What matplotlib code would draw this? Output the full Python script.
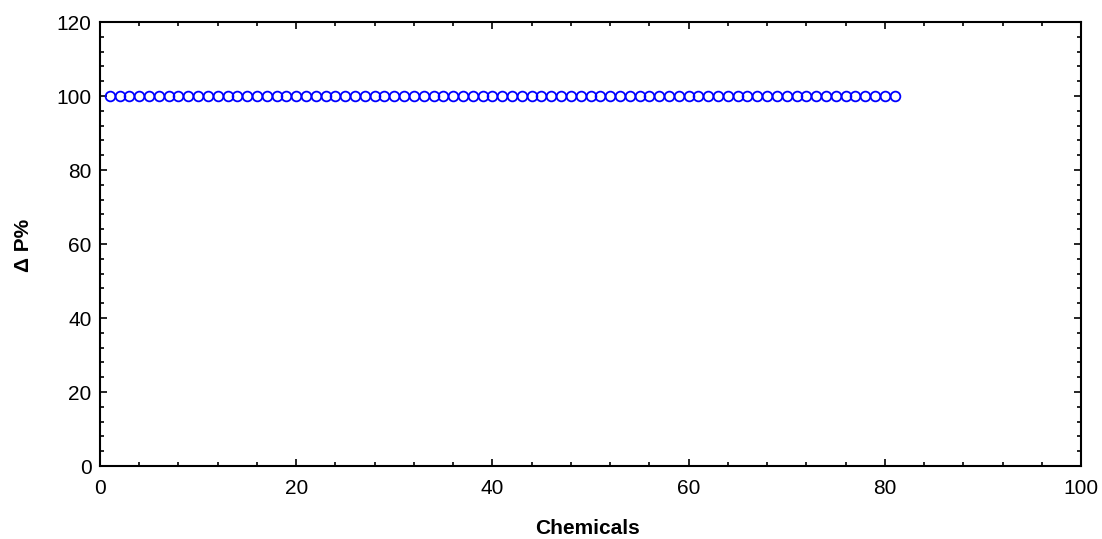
import numpy as np
import matplotlib
matplotlib.use("Agg")
import matplotlib.pyplot as plt
from matplotlib.ticker import MultipleLocator

plt.rcParams['font.family'] = ['Liberation Sans', 'DejaVu Sans']

chemicals = list(range(1, 82))
delta_p = [100] * 81

fig = plt.figure(figsize=(11.02, 5.39), dpi=100)
ax = fig.add_axes([100/1102, 1-466/539, 981/1102, 444/539])
ax.plot(chemicals, delta_p, linestyle='none', marker='o', markersize=7,
        markerfacecolor='none', markeredgecolor='#0000ff', markeredgewidth=1.3)
ax.set_xlim(0, 100)
ax.set_ylim(0, 120)
ax.xaxis.set_major_locator(MultipleLocator(20))
ax.xaxis.set_minor_locator(MultipleLocator(4))
ax.yaxis.set_major_locator(MultipleLocator(20))
ax.yaxis.set_minor_locator(MultipleLocator(4))
ax.tick_params(which='both', direction='in', top=True, right=True, labelsize=15, width=1.2)
ax.tick_params(axis='x', which='both', pad=9.5)
ax.tick_params(axis='y', which='both', pad=6)
ax.tick_params(which='major', length=5)
ax.tick_params(which='minor', length=3)
for s in ax.spines.values():
    s.set_linewidth(1.5)
ax.set_xlabel('Chemicals', fontsize=15, fontweight='bold')
ax.set_ylabel('\u0394 P%', fontsize=15, fontweight='bold')
ax.xaxis.label.set_va('center')
ax.xaxis.set_label_coords(588/1102, 1-529/539, transform=fig.transFigure)
ax.yaxis.label.set_va('center')
ax.yaxis.set_label_coords(23.5/1102, 1-245/539, transform=fig.transFigure)
fig.savefig('out.png', dpi=100)
